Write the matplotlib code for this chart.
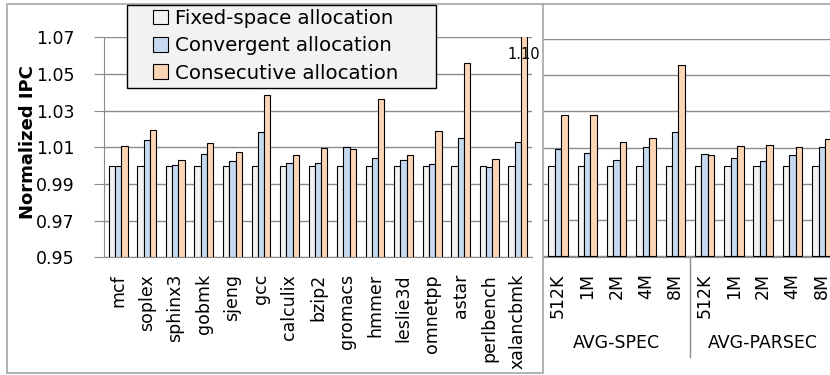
import numpy as np
import matplotlib.pyplot as plt
from matplotlib.lines import Line2D
from matplotlib.patches import Rectangle

# benchmarks (left panel)
benchmarks = ["mcf", "soplex", "sphinx3", "gobmk", "sjeng", "gcc", "calculix", "bzip2",
              "gromacs", "hmmer", "leslie3d", "omnetpp", "astar", "perlbench", "xalancbmk"]
fixed = [1.000, 1.000, 1.000, 1.000, 1.000, 1.000, 1.000, 1.000,
         1.000, 1.000, 1.000, 1.000, 1.000, 0.9998, 1.000]
convergent = [1.000, 1.0139, 1.0004, 1.0062, 1.0028, 1.0186, 1.0015, 1.0015,
              1.0102, 1.0044, 1.0033, 1.0009, 1.0151, 0.9995, 1.0128]
consecutive = [1.0108, 1.0195, 1.0031, 1.0122, 1.0073, 1.0387, 1.0059, 1.0098,
               1.0093, 1.0362, 1.0060, 1.0191, 1.0562, 1.0039, 1.10]

# averages (right panel)
sizes = ["512K", "1M", "2M", "4M", "8M", "512K", "1M", "2M", "4M", "8M"]
groups = ["AVG-SPEC", "AVG-PARSEC"]
avg_fixed = [1.000] * 10
avg_convergent = [1.0091, 1.0069, 1.0031, 1.0106, 1.0189, 1.0067, 1.0043, 1.0027, 1.0058, 1.0102]
avg_consecutive = [1.0279, 1.0279, 1.0132, 1.0154, 1.0557, 1.0058, 1.0111, 1.0117, 1.0102, 1.0147]

series_names = ["Fixed-space allocation", "Convergent allocation", "Consecutive allocation"]
colors = ["#f2f2f2", "#c6d9f1", "#fcd5b5"]

plt.rcParams["font.family"] = "DejaVu Sans"
W, H = 830, 375
fig = plt.figure(figsize=(W / 100, H / 100), dpi=100)

def fx(px):
    return px / W

def fy(py):
    return 1 - py / H

ylo, yhi = 0.95, 1.07
w = 0.22
grid_c = "#8c8c8c"

ax1 = fig.add_axes([fx(104), fy(257.4), fx(532 - 104), fy(37.3) - fy(257.4)])
ax2 = fig.add_axes([fx(543.2), fy(256.5), fx(293.3), fy(39) - fy(256.5)])

for ax, cats, data in [(ax1, benchmarks, [fixed, convergent, consecutive]),
                       (ax2, sizes, [avg_fixed, avg_convergent, avg_consecutive])]:
    x = np.arange(len(cats))
    for i, vals in enumerate(data):
        ax.bar(x + (i - 1) * w, np.array(vals) - ylo, w, bottom=ylo, color=colors[i],
               edgecolor="black", linewidth=0.8, label=series_names[i], zorder=3)
    ax.set_xlim(-0.5, len(cats) - 0.5)
    ax.set_ylim(ylo, yhi)
    ax.set_yticks(np.arange(0.95, 1.0701, 0.02))
    ax.yaxis.grid(True, color=grid_c, linewidth=1, zorder=0)
    ax.set_xticks(x)
    ax.set_xticklabels(cats, rotation=90, fontsize=12.5)
    ax.tick_params(axis="x", length=0, pad=12)
    for s in ["top", "right"]:
        ax.spines[s].set_visible(False)
    ax.spines["bottom"].set_color(grid_c)
    ax.spines["left"].set_color(grid_c)

ax1.set_yticklabels([f"{v:.2f}" for v in np.arange(0.95, 1.0701, 0.02)], fontsize=12.5)
ax1.tick_params(axis="y", length=7, color=grid_c, pad=14)
ax2.tick_params(axis="y", length=0, labelleft=False)
ax2.spines["left"].set_visible(False)

fig.text(fx(28), fy(142), "Normalized IPC", rotation=90, ha="center", va="center",
         fontsize=13, fontweight="bold")

# clipped bar label
ax1.text(14 + w, 1.0604, "1.10", ha="center", va="center", fontsize=10.5, zorder=5)

# group labels under the averages
for k, g in enumerate(groups):
    ax2.text(2 + 5 * k, -0.40, g, transform=ax2.get_xaxis_transform(), ha="center",
             va="center", fontsize=12.5)
ax2.plot([4.5, 4.5], [0, -0.46], transform=ax2.get_xaxis_transform(), color=grid_c,
         linewidth=1, clip_on=False)

# chart borders
fig.add_artist(Rectangle((fx(7), fy(373)), fx(543 - 7), fy(4) - fy(373), transform=fig.transFigure,
                         fill=False, edgecolor="#a6a6a6", linewidth=1.2))
fig.add_artist(Line2D([fx(543), 1], [fy(4), fy(4)], transform=fig.transFigure,
                      color="#a6a6a6", linewidth=1.2))

# legend box drawn separately (wide side padding)
fig.add_artist(Rectangle((fx(127), fy(88)), fx(436 - 127), fy(5) - fy(88), transform=fig.transFigure,
                         facecolor="#f2f2f2", edgecolor="black", linewidth=1, zorder=4))
handles = [Rectangle((0, 0), 1, 1, facecolor=c, edgecolor="black", linewidth=0.8) for c in colors]
leg = fig.legend(handles, series_names, loc="upper left", bbox_to_anchor=(fx(153), fy(9)),
                 fontsize=14.2, frameon=False, handlelength=0.75, handleheight=0.75,
                 handletextpad=0.35, labelspacing=0.42, borderpad=0, borderaxespad=0)
leg.set_zorder(5)

fig.savefig("out.png", dpi=100)
